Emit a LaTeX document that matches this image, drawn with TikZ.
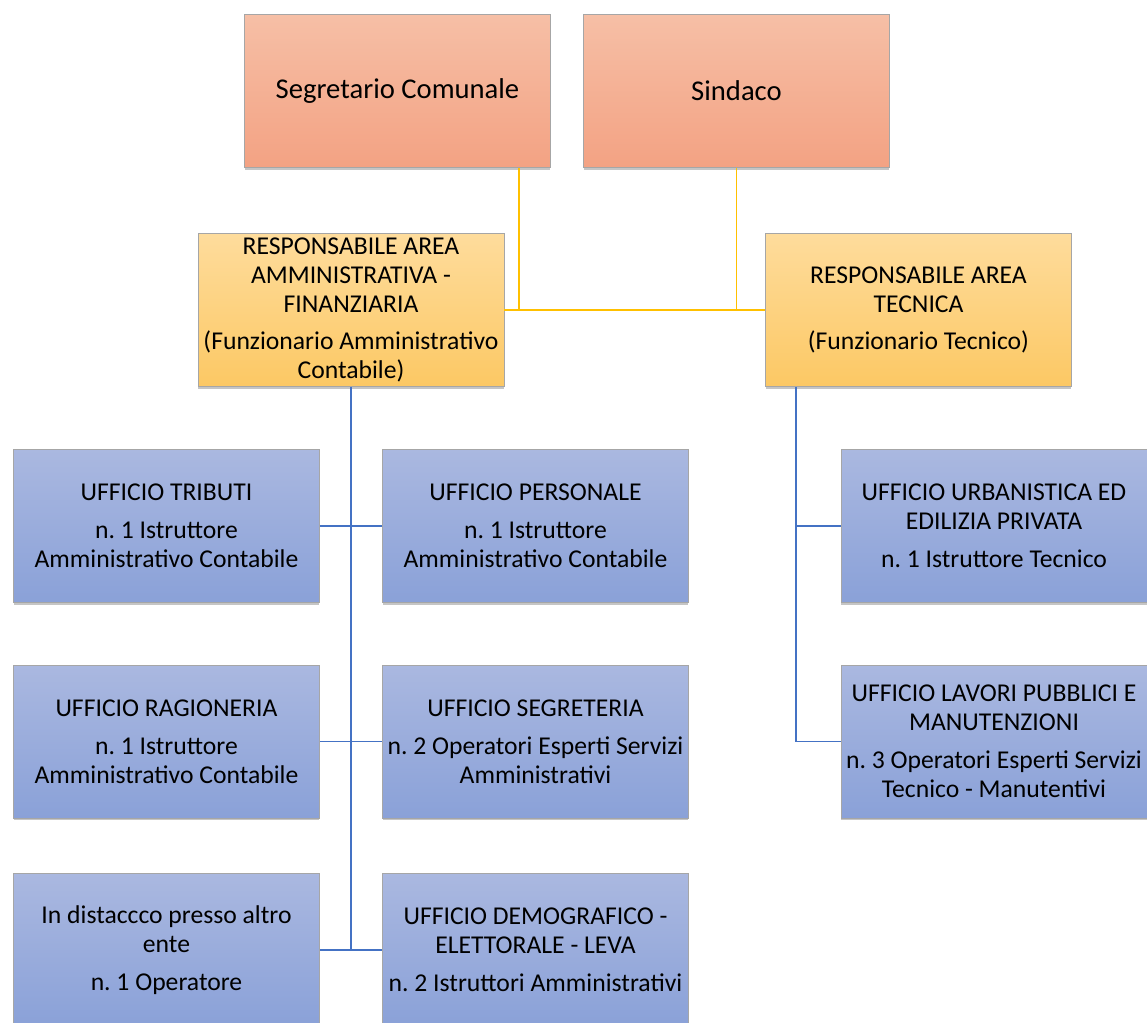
\documentclass[tikz,border=0pt]{standalone}
\usepackage{fontspec}
\setmainfont{Carlito}
\usetikzlibrary{positioning,calc,shadows}
\definecolor{topfill}{RGB}{246,191,166}
\definecolor{topfilldark}{RGB}{243,162,131}
\definecolor{areafill}{RGB}{254,220,156}
\definecolor{areafilldark}{RGB}{252,200,100}
\definecolor{offfill}{RGB}{170,184,224}
\definecolor{offfilldark}{RGB}{138,161,216}
\definecolor{linkyellow}{RGB}{255,192,0}
\definecolor{linkblue}{RGB}{68,114,196}
\frenchspacing

\begin{document}
\begin{tikzpicture}[
    x=0.02cm, y=-0.02cm,
    box/.style={draw=gray!70, line width=0.5pt, text width=5.98cm, align=flush center,
        minimum height=3.06cm, inner sep=2pt,
        drop shadow={shadow xshift=0pt, shadow yshift=-1.2pt, opacity=0.45},
        font=\fontsize{14.6}{16.5}\selectfont},
    topbox/.style={box, top color=topfill, bottom color=topfilldark,
        font=\fontsize{16.3}{20}\selectfont},
    areabox/.style={box, top color=areafill, bottom color=areafilldark},
    officebox/.style={box, top color=offfill, bottom color=offfilldark},
    yline/.style={draw=linkyellow, line width=1pt},
    bline/.style={draw=linkblue, line width=1pt}
]
\fill[white] (0,0) rectangle (1147,1022);
\useasboundingbox (0,0) rectangle (1147,1022);

% vertici
\node[topbox] (seg) at (397.5,91) {Segretario Comunale};
\node[topbox] (sind) at (736.5,91) {Sindaco};

% responsabili di area
\node[areabox] (ramm) at (351,310) {RESPONSABILE AREA\\AMMINISTRATIVA -\\FINANZIARIA\\[5pt]
    (Funzionario Amministrativo\\Contabile)};
\node[areabox] (rtec) at (918.5,310) {RESPONSABILE AREA\\TECNICA\\[5pt](Funzionario Tecnico)};

% uffici area amministrativa
\node[officebox] (trib) at (166.5,526) {UFFICIO TRIBUTI\\[5pt]n. 1 Istruttore\\Amministrativo Contabile};
\node[officebox] (pers) at (535.5,526) {UFFICIO PERSONALE\\[5pt]n. 1 Istruttore\\Amministrativo Contabile};
\node[officebox] (rag) at (166.5,741.5) {UFFICIO RAGIONERIA\\[5pt]n. 1 Istruttore\\Amministrativo Contabile};
\node[officebox] (segr) at (535.5,741.5) {UFFICIO SEGRETERIA\\[5pt]n. 2 Operatori Esperti Servizi\\Amministrativi};
\node[officebox] (dist) at (166.5,950) {In distaccco presso altro\\ente\\[5pt]n. 1 Operatore};
\node[officebox] (demo) at (535.5,950) {UFFICIO DEMOGRAFICO -\\ELETTORALE - LEVA\\[5pt]n. 2 Istruttori Amministrativi};

% uffici area tecnica
\node[officebox] (urb) at (994,526) {UFFICIO URBANISTICA ED\\EDILIZIA PRIVATA\\[5pt]n. 1 Istruttore Tecnico};
\node[officebox] (lav) at (994,741.5) {UFFICIO LAVORI PUBBLICI E\\MANUTENZIONI\\[5pt]n. 3 Operatori Esperti Servizi\\Tecnico - Manutentivi};

% collegamenti
\coordinate (sj) at ([xshift=2.43cm]seg.south);
\draw[yline] (sj) |- (ramm.east);
\draw[yline] (ramm.east) -- (rtec.west);
\draw[yline] (sind.south) -- (sind.south |- rtec.west);

\draw[bline] (ramm.south) -- (ramm.south |- dist.east);
\draw[bline] (trib.east) -- (pers.west);
\draw[bline] (rag.east) -- (segr.west);
\draw[bline] (dist.east) -- (demo.west);

\coordinate (tj) at ([xshift=-2.45cm]rtec.south);
\draw[bline] (tj) |- (lav.west);
\draw[bline] (urb.west) -- (urb.west -| tj);
\end{tikzpicture}
\end{document}
